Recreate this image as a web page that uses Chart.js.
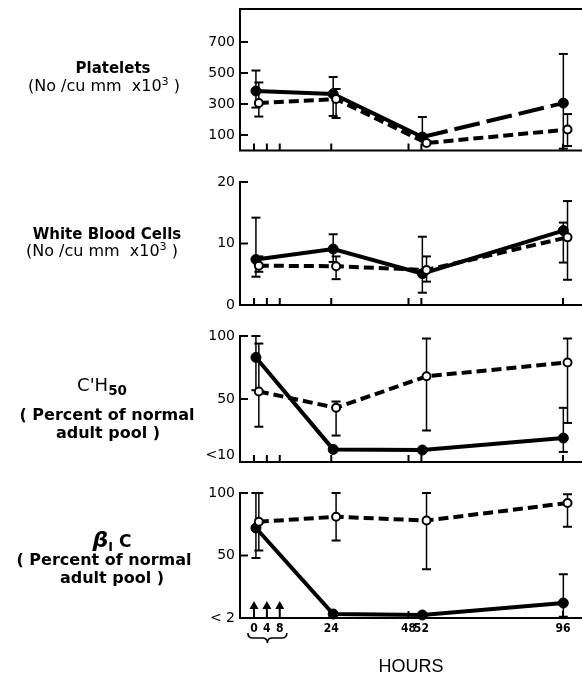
<!DOCTYPE html>
<html><head><meta charset="utf-8">
<script src="https://cdn.jsdelivr.net/npm/chart.js@4"></script>
<style>
html,body{margin:0;padding:0;background:#fff;width:582px;height:676px;overflow:hidden;position:relative;}
canvas{position:absolute;left:0;}
.lbl{position:absolute;color:#000;font-family:"DejaVu Sans",sans-serif;white-space:nowrap;transform:translate(-50%,-50%);line-height:1;}
.b{font-weight:bold;font-size:15px;}
.p{font-weight:bold;font-size:16px;}
.r{font-size:16px;}
sup{font-size:70%;vertical-align:0.55em;line-height:0;}
sub{font-size:75%;vertical-align:-0.3em;line-height:0;}
</style></head><body>
<canvas id="c1" width="582" height="160" style="top:0px"></canvas>
<canvas id="c2" width="582" height="153" style="top:162px"></canvas>
<canvas id="c3" width="582" height="152" style="top:318px"></canvas>
<canvas id="c4" width="582" height="206" style="top:470px"></canvas>

<div class="lbl b" style="left:113px;top:68px">Platelets</div>
<div class="lbl r" style="left:104px;top:86px">(No /cu mm &nbsp;x10<sup>3</sup> )</div>
<div class="lbl b" style="left:107px;top:234px">White Blood Cells</div>
<div class="lbl r" style="left:102px;top:251px">(No /cu mm &nbsp;x10<sup>3</sup> )</div>
<div class="lbl" style="left:102px;top:385px;font-size:18px">C'H<sub style="font-weight:bold">50</sub></div>
<div class="lbl p" style="left:107px;top:415px">( Percent of normal</div>
<div class="lbl p" style="left:108px;top:433px">adult pool )</div>
<div class="lbl b" style="left:112px;top:540px;font-size:17px"><i style="font-size:22px">β</i><sub>I</sub> C</div>
<div class="lbl p" style="left:104px;top:560px">( Percent of normal</div>
<div class="lbl p" style="left:112px;top:578px">adult pool )</div>

<script>
// ---- data ----
const hoursFilled = [0.6, 24.6, 52.3, 96.1];
const hoursOpen   = [1.5, 25.5, 53.6, 97.4];
const xTickHours  = [0, 4, 8, 24, 48, 52, 96];
const xTickLabels = ["0", "4", "8", "24", "48", "52", "96"];
const infusionHours = [0, 4, 8];

const plateletsFilled     = [384, 365, 87, 306];
const plateletsFilledLow  = [277, 223, null, 12];
const plateletsFilledHigh = [516, 474, 216, 623];
const plateletsOpen       = [306, 332, 48, 135];
const plateletsOpenLow    = [219, 210, null, 29];
const plateletsOpenHigh   = [439, 397, null, 235];
const plateletsTicks      = [100, 300, 500, 700];
const plateletsTickLabels = ["100", "300", "500", "700"];

const wbcFilled     = [7.4, 9.1, 5.1, 12.1];
const wbcFilledLow  = [4.6, 7.0, 2.0, 6.9];
const wbcFilledHigh = [14.2, 11.5, 11.1, 13.4];
const wbcOpen       = [6.4, 6.3, 5.7, 11.0];
const wbcOpenLow    = [5.4, 4.2, 3.8, 4.1];
const wbcOpenHigh   = [7.9, 7.9, 7.9, 16.9];
const wbcTicks      = [0, 10, 20];
const wbcTickLabels = ["0", "10", "20"];

const ch50Filled     = [83, 10, 9.5, 19];
const ch50FilledLow  = [57, null, null, 8];
const ch50FilledHigh = [100, null, null, 43];
const ch50Open       = [56, 43, 68, 79];
const ch50OpenLow    = [28, 21, 25, 31];
const ch50OpenHigh   = [94, 48, 98, 98];
const ch50Ticks      = [5, 50, 100];
const ch50TickLabels = ["<10", "50", "100"];

const b1cFilled     = [72, 3.2, 2.4, 12];
const b1cFilledLow  = [48, null, null, 1];
const b1cFilledHigh = [100, null, null, 35];
const b1cOpen       = [77, 81, 78, 92];
const b1cOpenLow    = [54, 62, 39, 73];
const b1cOpenHigh   = [100, 100, 100, 99];
const b1cTicks      = [0, 50, 100];
const b1cTickLabels = ["< 2", "50", "100"];

// ---- drawing helpers ----
function line(ctx, x1, y1, x2, y2) { ctx.beginPath(); ctx.moveTo(x1, y1); ctx.lineTo(x2, y2); ctx.stroke(); }

function decoPlugin(cfg) {
  return {
    id: 'deco',
    beforeDatasetsDraw(chart) {
      const ctx = chart.ctx, a = chart.chartArea, x = chart.scales.x, y = chart.scales.y;
      ctx.save();
      ctx.strokeStyle = '#000'; ctx.fillStyle = '#000'; ctx.lineWidth = 2; ctx.lineCap = 'butt';
      line(ctx, a.left - 1, a.bottom, a.right, a.bottom);
      if (cfg.topBorder) line(ctx, a.left - 1, a.top, a.right, a.top);
      cfg.yMarks.forEach(v => { const py = y.getPixelForValue(v); line(ctx, a.left, py, a.left + 8, py); });
      cfg.xMarks.forEach(h => { const px = x.getPixelForValue(h); line(ctx, px, a.bottom, px, a.bottom - 7); });
      if (cfg.arrows) {
        infusionHours.forEach(h => {
          const px = x.getPixelForValue(h);
          line(ctx, px, a.bottom, px, a.bottom - 10);
          ctx.beginPath(); ctx.moveTo(px, a.bottom - 17); ctx.lineTo(px - 4.5, a.bottom - 9); ctx.lineTo(px + 4.5, a.bottom - 9); ctx.closePath(); ctx.fill();
        });
        // brace under 0-8
        const x1 = x.getPixelForValue(-1.9), x2 = x.getPixelForValue(10.2), xm = (x1 + x2) / 2;
        const yt = a.bottom + 15, ym = a.bottom + 20, yb = a.bottom + 25;
        ctx.lineWidth = 1.6;
        ctx.beginPath();
        ctx.moveTo(x1, yt); ctx.quadraticCurveTo(x1, ym, x1 + 5, ym);
        ctx.lineTo(xm - 5, ym); ctx.quadraticCurveTo(xm, ym, xm, yb);
        ctx.quadraticCurveTo(xm, ym, xm + 5, ym);
        ctx.lineTo(x2 - 5, ym); ctx.quadraticCurveTo(x2, ym, x2, yt);
        ctx.stroke();
      }
      // error bars
      chart.data.datasets.forEach((ds, di) => {
        const meta = chart.getDatasetMeta(di);
        meta.data.forEach((pt, i) => {
          const lo = ds.errLow[i], hi = ds.errHigh[i];
          const py = pt.y;
          ctx.lineWidth = 1.5;
          [lo, hi].forEach(v => {
            if (v === null || v === undefined) return;
            const pv = y.getPixelForValue(v);
            line(ctx, pt.x, py, pt.x, pv);
            ctx.lineWidth = 2; line(ctx, pt.x - 4.5, pv, pt.x + 4.5, pv); ctx.lineWidth = 1.5;
          });
        });
      });
      ctx.restore();
    }
  };
}

function makePanel(id, cfg) {
  const mk = (hours, vals) => hours.map((h, i) => ({ x: h, y: vals[i] }));
  return new Chart(document.getElementById(id), {
    type: 'line',
    data: {
      datasets: [
        {
          label: 'open', data: mk(hoursOpen, cfg.open), errLow: cfg.openLow, errHigh: cfg.openHigh,
          borderColor: '#000', borderWidth: 4, borderDash: [10, 5], tension: 0, clip: false,
          pointRadius: 4, pointBackgroundColor: '#fff', pointBorderColor: '#000', pointBorderWidth: 2
        },
        {
          label: 'filled', data: mk(hoursFilled, cfg.filled), errLow: cfg.filledLow, errHigh: cfg.filledHigh,
          borderColor: '#000', borderWidth: 4, tension: 0, clip: false,
          pointRadius: 5, pointBackgroundColor: '#000', pointBorderColor: '#000', pointBorderWidth: 1,
          segment: { borderDash: ctx => (cfg.dashFrom !== undefined && ctx.p0DataIndex >= cfg.dashFrom) ? [26, 7] : undefined }
        }
      ]
    },
    options: {
      responsive: false, animation: false, devicePixelRatio: 1,
      layout: { autoPadding: false, padding: { top: cfg.padTop, bottom: cfg.padBottom, left: 0, right: 0 } },
      plugins: { legend: { display: false }, tooltip: { enabled: false } },
      scales: {
        x: {
          type: 'linear', min: -4.35, max: 101.9, display: !!cfg.showX,
          grid: { display: false, drawTicks: false }, border: { display: false },
          afterBuildTicks: s => { s.ticks = xTickHours.map(v => ({ value: v })); },
          afterFit: s => { if (cfg.showX) s.height = 58; s.paddingLeft = 0; s.paddingRight = 0; },
          ticks: {
            autoSkip: false, maxRotation: 0, padding: 4, color: '#000',
            font: { family: '"DejaVu Sans Condensed","Liberation Sans Narrow",sans-serif', size: 12, weight: 'bold' },
            callback: v => xTickLabels[xTickHours.indexOf(v)]
          },
          title: {
            display: !!cfg.showX, text: 'HOURS', color: '#000', padding: { top: 0, bottom: 0 },
            font: { family: '"Liberation Sans",Arial,sans-serif', size: 18, lineHeight: 1 }
          }
        },
        y: {
          min: cfg.yMin, max: cfg.yMax,
          afterFit: s => { s.width = 240; s.paddingTop = 0; s.paddingBottom = 0; },
          afterBuildTicks: s => { s.ticks = cfg.yTicks.map(v => ({ value: v })); },
          grid: { display: false, drawTicks: false },
          border: { display: true, color: '#000', width: 2 },
          ticks: {
            padding: 5, color: '#000',
            font: { family: '"DejaVu Sans",sans-serif', size: 14 },
            callback: v => cfg.yLabels[cfg.yTicks.indexOf(v)]
          }
        }
      }
    },
    plugins: [decoPlugin(cfg)]
  });
}

makePanel('c1', {
  filled: plateletsFilled, filledLow: plateletsFilledLow, filledHigh: plateletsFilledHigh,
  open: plateletsOpen, openLow: plateletsOpenLow, openHigh: plateletsOpenHigh,
  yMin: 0, yMax: 913, yTicks: plateletsTicks, yLabels: plateletsTickLabels, yMarks: plateletsTicks,
  xMarks: xTickHours, topBorder: true, dashFrom: 2, padTop: 9, padBottom: 9.5
});
makePanel('c2', {
  filled: wbcFilled, filledLow: wbcFilledLow, filledHigh: wbcFilledHigh,
  open: wbcOpen, openLow: wbcOpenLow, openHigh: wbcOpenHigh,
  yMin: 0, yMax: 20, yTicks: wbcTicks, yLabels: wbcTickLabels, yMarks: [10, 20],
  xMarks: xTickHours, padTop: 20, padBottom: 10
});
makePanel('c3', {
  filled: ch50Filled, filledLow: ch50FilledLow, filledHigh: ch50FilledHigh,
  open: ch50Open, openLow: ch50OpenLow, openHigh: ch50OpenHigh,
  yMin: 0, yMax: 100, yTicks: ch50Ticks, yLabels: ch50TickLabels, yMarks: [50, 100],
  xMarks: xTickHours, padTop: 18, padBottom: 8
});
makePanel('c4', {
  filled: b1cFilled, filledLow: b1cFilledLow, filledHigh: b1cFilledHigh,
  open: b1cOpen, openLow: b1cOpenLow, openHigh: b1cOpenHigh,
  yMin: 0, yMax: 100, yTicks: b1cTicks, yLabels: b1cTickLabels, yMarks: [50, 100],
  xMarks: [24, 48, 52, 96], arrows: true, showX: true, padTop: 23, padBottom: 0
});
</script>
</body></html>
